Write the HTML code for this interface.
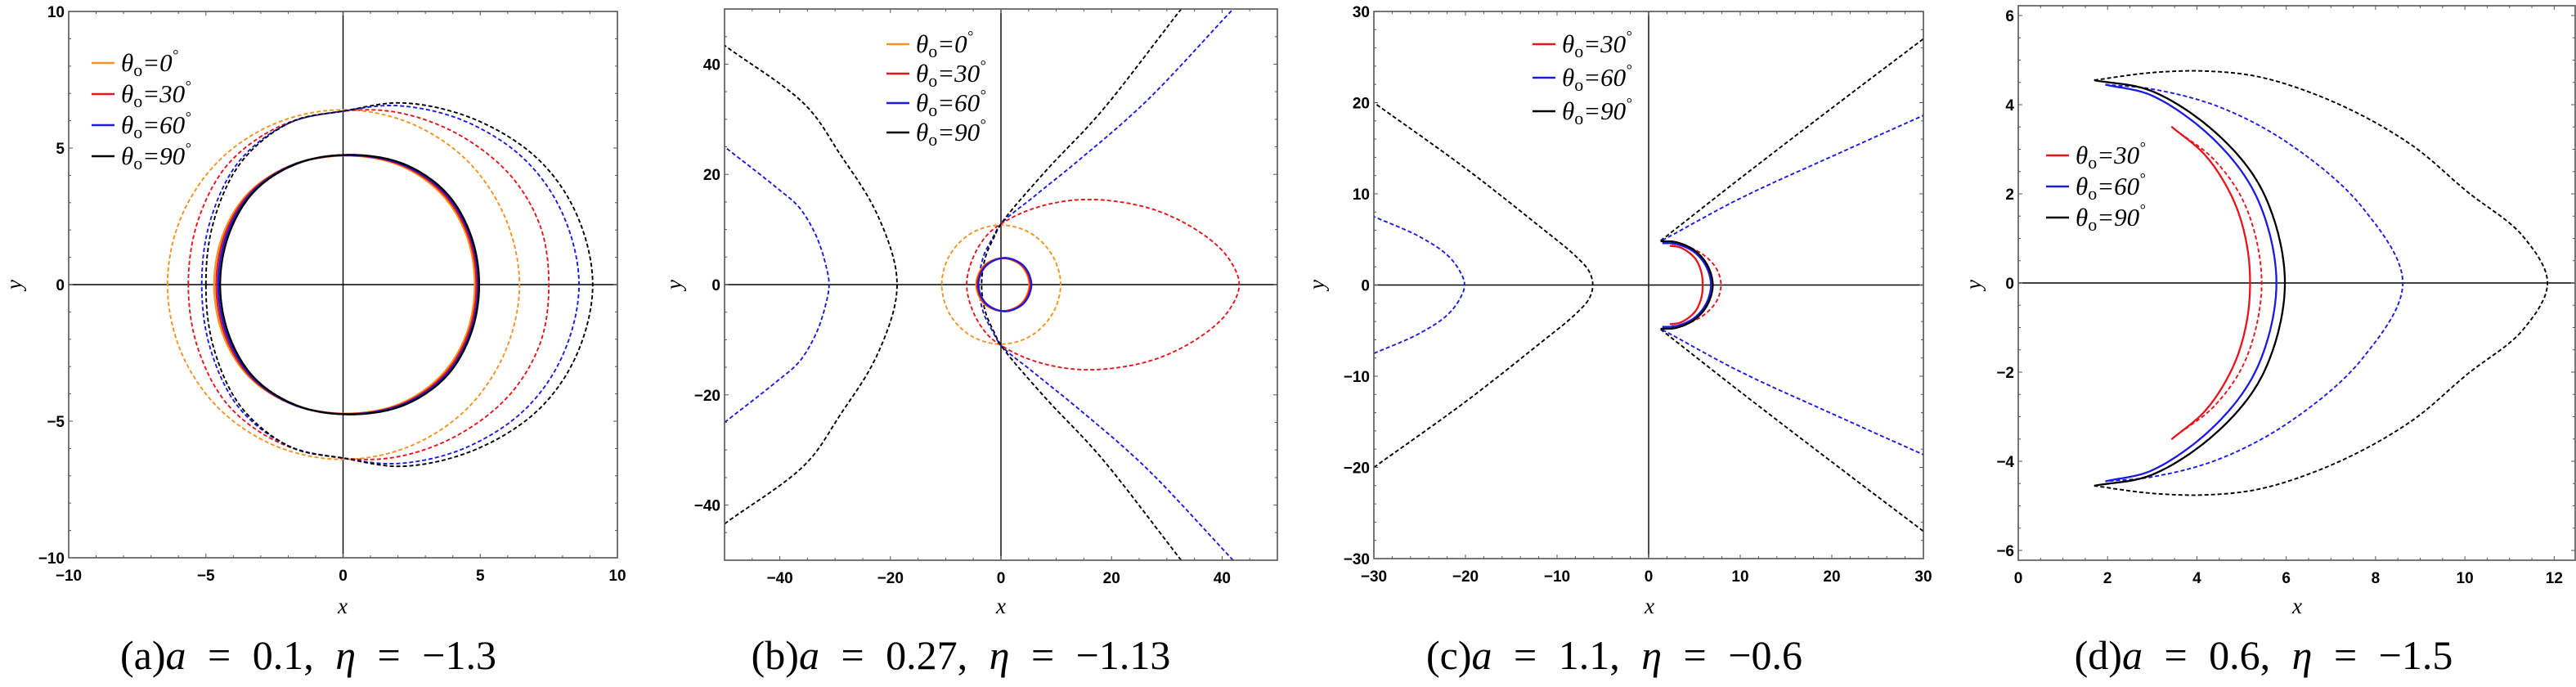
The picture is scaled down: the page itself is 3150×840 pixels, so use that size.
<!DOCTYPE html>
<html><head><meta charset="utf-8">
<style>
html,body{margin:0;padding:0;background:#fff;}
svg{display:block;}
</style></head>
<body>
<svg id="fig" xmlns="http://www.w3.org/2000/svg" width="3150" height="840" viewBox="0 0 3150 840"></svg>
<script>
// ===== Data (upper half y>=0; curves are mirrored about y=0) =====
// Panel (a) a=0.1, eta=-1.3
const aOrangeSolid=[[-4.7,0],[-4.35,1.9],[-3.4,3.4],[-1.8,4.4],[0.2,4.72],[2.1,4.35],[3.6,3.3],[4.5,1.8],[4.8,0]];
const aRedSolid=[[-4.62,0],[-4.28,1.9],[-3.33,3.42],[-1.74,4.42],[0.25,4.73],[2.15,4.37],[3.66,3.32],[4.56,1.8],[4.86,0]];
const aBlueSolid=[[-4.55,0],[-4.21,1.9],[-3.26,3.44],[-1.68,4.44],[0.3,4.74],[2.2,4.38],[3.72,3.34],[4.62,1.8],[4.92,0]];
const aBlackSolid=[[-4.48,0],[-4.14,1.9],[-3.2,3.45],[-1.62,4.45],[0.35,4.75],[2.25,4.4],[3.77,3.35],[4.66,1.8],[4.96,0]];
const aOrangeDash=[[-6.4,0],[-5.91,2.45],[-4.53,4.53],[-2.45,5.91],[0,6.4],[2.45,5.91],[4.53,4.53],[5.91,2.45],[6.43,0]];
const aRedDash=[[-5.64,0],[-5.3,2.3],[-4.2,4.4],[-2.3,5.8],[0,6.35],[2,6.3],[4.2,5.5],[6.1,4.0],[7.2,2.1],[7.5,0]];
const aBlueDash=[[-5.15,0],[-4.85,2.3],[-3.8,4.5],[-2,5.9],[0,6.35],[2,6.55],[4.4,6.0],[6.6,4.6],[8.0,2.6],[8.6,0]];
const aBlackDash=[[-5.0,0],[-4.72,2.3],[-3.7,4.5],[-1.9,5.95],[0,6.35],[2.2,6.65],[4.8,6.05],[7.1,4.6],[8.5,2.6],[9.1,0]];
// Panel (b) a=0.27, eta=-1.13
const bOrangeSolid=[[-4.5,0],[-3.1,3.4],[0.3,4.8],[3.7,3.4],[5.1,0]];
const bRedSolid=[[-4.3,0],[-2.9,3.4],[0.5,4.8],[3.9,3.4],[5.3,0]];
const bBlueSolid=[[-4.1,0],[-2.7,3.4],[0.7,4.85],[4.1,3.4],[5.5,0]];
const bOrangeDash=[[-10.7,0],[-9.3,5.3],[-5.4,9.3],[0,10.8],[5.4,9.3],[9.3,5.3],[10.8,0]];
const bRedDash=[[-6.2,0],[-5,5],[-2.5,9],[0,11],[5,13.5],[12,15.2],[19,15.3],[28,13.5],[36,9.5],[41,5],[43.1,0]];
const bBlueRight=[[-4,0],[-3.2,5],[-1.5,8.5],[0,11],[6,16],[14,22.5],[26,33],[42,50]];
const bBlackRight=[[-3.5,0],[-2.8,5],[-1.3,8.5],[0,11],[8,20.5],[17.8,31],[32.6,50]];
const bBlueLeft=[[-31.1,0],[-31.8,4],[-33.5,9],[-36.5,14],[-40.6,17.6],[-50,25]];
const bBlackLeft=[[-18.8,0],[-19.5,5],[-23.1,14.2],[-29,23.5],[-35.3,32.5],[-50,43.4]];
// Panel (c) a=1.1, eta=-0.6
const cBlackLeft=[[-6.1,0],[-6.5,1.5],[-8,3.2],[-12,6.5],[-20,12.8],[-30,20]];
const cBlueLeft=[[-20.1,0],[-20.6,1.5],[-22,3.3],[-25,5.3],[-30,7.5]];
const cBlackRight=[[1.3,4.85],[10,11.7],[20,19.4],[30,27]];
const cBlueRight=[[1.5,4.9],[10,9.5],[20,14.1],[30,18.6]];
const cBlackSolid=[[1.3,4.8],[3,4.7],[5,3.8],[6.4,2.2],[7.0,0]];
const cBlueSolid=[[1.5,4.6],[3,4.5],[5,3.6],[6.3,2.0],[6.8,0]];
const cRedSolid=[[2.3,4.3],[3.5,4.1],[5,3.0],[5.7,1.6],[5.9,0]];
const cRedDash=[[2.5,4.5],[4,4.3],[6,3.3],[7.4,1.8],[7.9,0]];
// Panel (d) a=0.6, eta=-1.5
const dBlackDash=[[1.7,4.55],[3,4.72],[4.3,4.75],[5.5,4.6],[7.2,4.0],[8.8,3.1],[10.05,2.05],[11.3,1.05],[11.85,0]];
const dBlueDash=[[1.95,4.45],[3,4.35],[4.5,3.95],[6.1,3.1],[7.7,1.7],[8.61,0]];
const dBlackSolid=[[1.7,4.55],[3,4.3],[4.5,3.3],[5.5,2.0],[5.97,0]];
const dBlueSolid=[[1.95,4.45],[3,4.2],[4.4,3.2],[5.35,1.9],[5.78,0]];
const dRedSolid=[[3.43,3.51],[4.2,2.85],[4.8,1.9],[5.1,0.95],[5.19,0]];
const dRedDash=[[3.5,3.45],[4.4,2.75],[5.1,1.7],[5.45,0]];

const aTicks=[-10,-5,0,5,10];
const bTicks=[-40,-20,0,20,40];
const cTicks=[-30,-20,-10,0,10,20,30];
const dXTicks=[0,2,4,6,8,10,12];
const dYTicks=[-6,-4,-2,0,2,4,6];

const aLegend=['0','30','60','90'];
const cLegend=['30','60','90'];

const C={o:'#f39323',r:'#e8141c',b:'#1a1ae0',k:'#000'};
const NS='http://www.w3.org/2000/svg';
const svg=document.getElementById('fig');
function mk(tag,parent,attrs){const e=document.createElementNS(NS,tag);for(const k in attrs)e.setAttribute(k,attrs[k]);parent.appendChild(e);return e;}

function mirror(up){return up.map(p=>[p[0],-p[1]]);}
function fullPts(up){
  const m=mirror(up).reverse();
  if(up[up.length-1][1]===0) return up.concat(m.slice(1));
  return m.concat(up.slice(1));
}
// centripetal Catmull-Rom sampled to polyline
function pathD(pts,sx,sy,closed){
  const P=pts.map(p=>[sx(p[0]),sy(p[1])]);
  const n=P.length;
  const out=[P[0]];
  const dist=(a,b)=>Math.max(1e-4,Math.pow(Math.hypot(a[0]-b[0],a[1]-b[1]),0.5));
  for(let i=0;i<n-1;i++){
    const p1=P[i],p2=P[i+1];
    let p0=P[i-1],p3=P[i+2];
    if(!p0) p0=closed?P[n-2]:[2*p1[0]-p2[0],2*p1[1]-p2[1]];
    if(!p3) p3=closed?P[1]:[2*p2[0]-p1[0],2*p2[1]-p1[1]];
    const t0=0,t1=t0+dist(p0,p1),t2=t1+dist(p1,p2),t3=t2+dist(p2,p3);
    const N=24;
    for(let j=1;j<=N;j++){
      const t=t1+(t2-t1)*j/N;
      const L=(a,b,ta,tb)=>[(tb-t)/(tb-ta)*a[0]+(t-ta)/(tb-ta)*b[0],(tb-t)/(tb-ta)*a[1]+(t-ta)/(tb-ta)*b[1]];
      const A1=L(p0,p1,t0,t1),A2=L(p1,p2,t1,t2),A3=L(p2,p3,t2,t3);
      const B1=L(A1,A2,t0,t2),B2=L(A2,A3,t1,t3);
      out.push(L(B1,B2,t1,t2));
    }
  }
  return 'M'+out.map(p=>p[0].toFixed(1)+','+p[1].toFixed(1)).join('L')+(closed?'Z':'');
}

function panel(cfg){
  const g=mk('g',svg,{});
  
  
  const {L,R,T,B,x0,x1,y0,y1}=cfg;
  const sx=v=>L+(v-x0)/(x1-x0)*(R-L);
  const sy=v=>B-(v-y0)/(y1-y0)*(B-T);
  const cp=mk('clipPath',g,{id:'clip'+cfg.id});
  mk('rect',cp,{x:L,y:T,width:R-L,height:B-T});
  const hz=mk('line',g,{x1:L,x2:R,y1:sy(0),y2:sy(0),stroke:'#000','stroke-width':1.4});
  
  
  if(cfg.vaxis){
    const vt=mk('line',g,{x1:sx(0),x2:sx(0),y1:T,y2:B,stroke:'#000','stroke-width':1.4});
    
    
  }
  const cg=mk('g',g,{'clip-path':'url(#clip'+cfg.id+')'});
  cfg.curves.forEach(cv=>{
    const closed=!cv.sep&&cv.pts[0][1]===0&&cv.pts[cv.pts.length-1][1]===0;
    const sets=cv.sep?[cv.pts,mirror(cv.pts)]:[fullPts(cv.pts)];
    sets.forEach(s=>{
      const p=mk('path',cg,{d:pathD(s,sx,sy,closed),fill:'none',stroke:C[cv.c],'stroke-width':cv.dash?1.9:2.3,'stroke-dasharray':cv.dash?'5 3':'none','stroke-linejoin':'round'});
      
      
    });
  });
  const fr=mk('rect',g,{x:L,y:T,width:R-L,height:B-T,fill:'none',stroke:'#555','stroke-width':1.6});
  
  
  const tg=mk('g',g,{stroke:'#555','stroke-width':1});
  for(let v=Math.ceil(x0/cfg.xmin)*cfg.xmin;v<=x1+1e-9;v+=cfg.xmin){
    const maj=Math.abs(v/cfg.xmaj-Math.round(v/cfg.xmaj))<1e-6, l=maj?5:3;
    mk('line',tg,{x1:sx(v),x2:sx(v),y1:B,y2:B-l});mk('line',tg,{x1:sx(v),x2:sx(v),y1:T,y2:T+l});
  }
  for(let v=Math.ceil(y0/cfg.ymin)*cfg.ymin;v<=y1+1e-9;v+=cfg.ymin){
    const maj=Math.abs(v/cfg.ymaj-Math.round(v/cfg.ymaj))<1e-6, l=maj?5:3;
    mk('line',tg,{x1:L,x2:L+l,y1:sy(v),y2:sy(v)});mk('line',tg,{x1:R,x2:R-l,y1:sy(v),y2:sy(v)});
  }
  cfg.xt.forEach(v=>{
    const t=mk('text',g,{x:sx(v),y:B+28,'text-anchor':'middle','font-family':'Liberation Sans, sans-serif','font-weight':'bold','font-size':19});
    t.textContent=(v<0?'\u2212':'')+Math.abs(v);
    
    
  });
  cfg.yt.forEach(v=>{
    const t=mk('text',g,{x:L-5,y:sy(v)+7,'text-anchor':'end','font-family':'Liberation Sans, sans-serif','font-weight':'bold','font-size':19});
    t.textContent=(v<0?'\u2212':'')+Math.abs(v);
    
    
  });
  const xl=mk('text',g,{x:cfg.xlx,y:750,'text-anchor':'middle','font-family':'Liberation Serif, serif','font-style':'italic','font-size':27});
  xl.textContent='x';
  
  
  const yl=mk('text',g,{x:0,y:0,'text-anchor':'middle','font-family':'Liberation Serif, serif','font-style':'italic','font-size':27,transform:'translate('+(cfg.ylx+8)+',348) rotate(-90)'});
  yl.textContent='y';
  
  
  cfg.leg.forEach((lab,i)=>{
    const y=cfg.legY+i*cfg.legDy;
    const col={'0':C.o,'30':C.r,'60':C.b,'90':C.k}[lab];
    const ln=mk('line',g,{x1:cfg.legX,x2:cfg.legX+28,y1:y,y2:y,stroke:col,'stroke-width':2.6});
    
    
    const t=mk('text',g,{x:cfg.legX+36,y:y+10,'font-family':'Liberation Serif, serif','font-size':31});
    
    
    const s1=mk('tspan',t,{'font-style':'italic'});s1.textContent='\u03b8';
    const s2=mk('tspan',t,{'font-size':22,dy:6});s2.textContent='o';
    const s3=mk('tspan',t,{'font-style':'italic',dy:-6});s3.textContent='='+lab;
    const s4=mk('tspan',t,{'font-size':18,dy:-14,'font-style':'italic'});s4.textContent='\u00b0';
  });
  const cap=mk('text',g,{x:cfg.capX,y:818,'text-anchor':'middle','font-family':'Liberation Serif, serif','font-size':50,'word-spacing':'14px'});
  
  
  const c1=mk('tspan',cap,{});c1.textContent='('+cfg.id+')';
  const c2=mk('tspan',cap,{'font-style':'italic'});c2.textContent='a';
  const c3=mk('tspan',cap,{});c3.textContent=' = '+cfg.aval+', ';
  const c4=mk('tspan',cap,{'font-style':'italic'});c4.textContent='\u03b7';
  const c5=mk('tspan',cap,{});c5.textContent=' = \u2212'+cfg.eta;
}

panel({id:'a',L:84,R:755,T:14,B:682,x0:-10,x1:10,y0:-10,y1:10,xmaj:5,xmin:1,ymaj:5,ymin:1,xt:aTicks,yt:aTicks,vaxis:true,
  xlx:419,ylx:18,leg:aLegend,legX:112,legY:77,legDy:38,capX:377,aval:'0.1',eta:'1.3',
  curves:[{pts:aOrangeDash,c:'o',dash:1,name:'a-orange-dashed'},{pts:aRedDash,c:'r',dash:1,name:'a-red-dashed'},{pts:aBlueDash,c:'b',dash:1,name:'a-blue-dashed'},{pts:aBlackDash,c:'k',dash:1,name:'a-black-dashed'},
  {pts:aOrangeSolid,c:'o',name:'a-orange-solid'},{pts:aRedSolid,c:'r',name:'a-red-solid'},{pts:aBlueSolid,c:'b',name:'a-blue-solid'},{pts:aBlackSolid,c:'k',name:'a-black-solid'}]});
panel({id:'b',L:886,R:1562,T:11,B:685,x0:-50,x1:50,y0:-50,y1:50,xmaj:20,xmin:5,ymaj:20,ymin:5,xt:bTicks,yt:bTicks,vaxis:true,
  xlx:1224,ylx:825,leg:aLegend,legX:1084,legY:54,legDy:36,capX:1175,aval:'0.27',eta:'1.13',
  curves:[{pts:bOrangeDash,c:'o',dash:1,name:'b-orange-dashed'},{pts:bRedDash,c:'r',dash:1,name:'b-red-dashed'},{pts:bBlueRight,c:'b',dash:1,name:'b-blue-right-branch'},{pts:bBlackRight,c:'k',dash:1,name:'b-black-right-branch'},
  {pts:bBlueLeft,c:'b',dash:1,name:'b-blue-left-branch'},{pts:bBlackLeft,c:'k',dash:1,name:'b-black-left-branch'},
  {pts:bOrangeSolid,c:'o',name:'b-orange-solid'},{pts:bRedSolid,c:'r',name:'b-red-solid'},{pts:bBlueSolid,c:'b',name:'b-blue-solid'}]});
panel({id:'c',L:1680,R:2352,T:14,B:683,x0:-30,x1:30,y0:-30,y1:30,xmaj:10,xmin:2,ymaj:10,ymin:2,xt:cTicks,yt:cTicks,vaxis:true,
  xlx:2017,ylx:1611,leg:cLegend,legX:1874,legY:54,legDy:41,capX:1974,aval:'1.1',eta:'0.6',
  curves:[{pts:cBlackLeft,c:'k',dash:1,name:'c-black-left-branch'},{pts:cBlueLeft,c:'b',dash:1,name:'c-blue-left-branch'},{pts:cBlackRight,c:'k',dash:1,sep:1,name:'c-black-right-lines'},{pts:cBlueRight,c:'b',dash:1,sep:1,name:'c-blue-right-lines'},
  {pts:cRedDash,c:'r',dash:1,name:'c-red-dashed'},{pts:cRedSolid,c:'r',name:'c-red-solid'},{pts:cBlueSolid,c:'b',name:'c-blue-solid'},{pts:cBlackSolid,c:'k',name:'c-black-solid'}]});
panel({id:'d',L:2468,R:3149,T:7,B:685,x0:0,x1:12.47,y0:-6.22,y1:6.22,xmaj:2,xmin:0.5,ymaj:2,ymin:0.5,xt:dXTicks,yt:dYTicks,vaxis:false,
  xlx:2809,ylx:2414,leg:cLegend,legX:2502,legY:190,legDy:38,capX:2768,aval:'0.6',eta:'1.5',
  curves:[{pts:dBlackDash,c:'k',dash:1,name:'d-black-dashed'},{pts:dBlueDash,c:'b',dash:1,name:'d-blue-dashed'},{pts:dRedDash,c:'r',dash:1,name:'d-red-dashed'},
  {pts:dBlackSolid,c:'k',name:'d-black-solid'},{pts:dBlueSolid,c:'b',name:'d-blue-solid'},{pts:dRedSolid,c:'r',name:'d-red-solid'}]});
</script>
</body></html>
